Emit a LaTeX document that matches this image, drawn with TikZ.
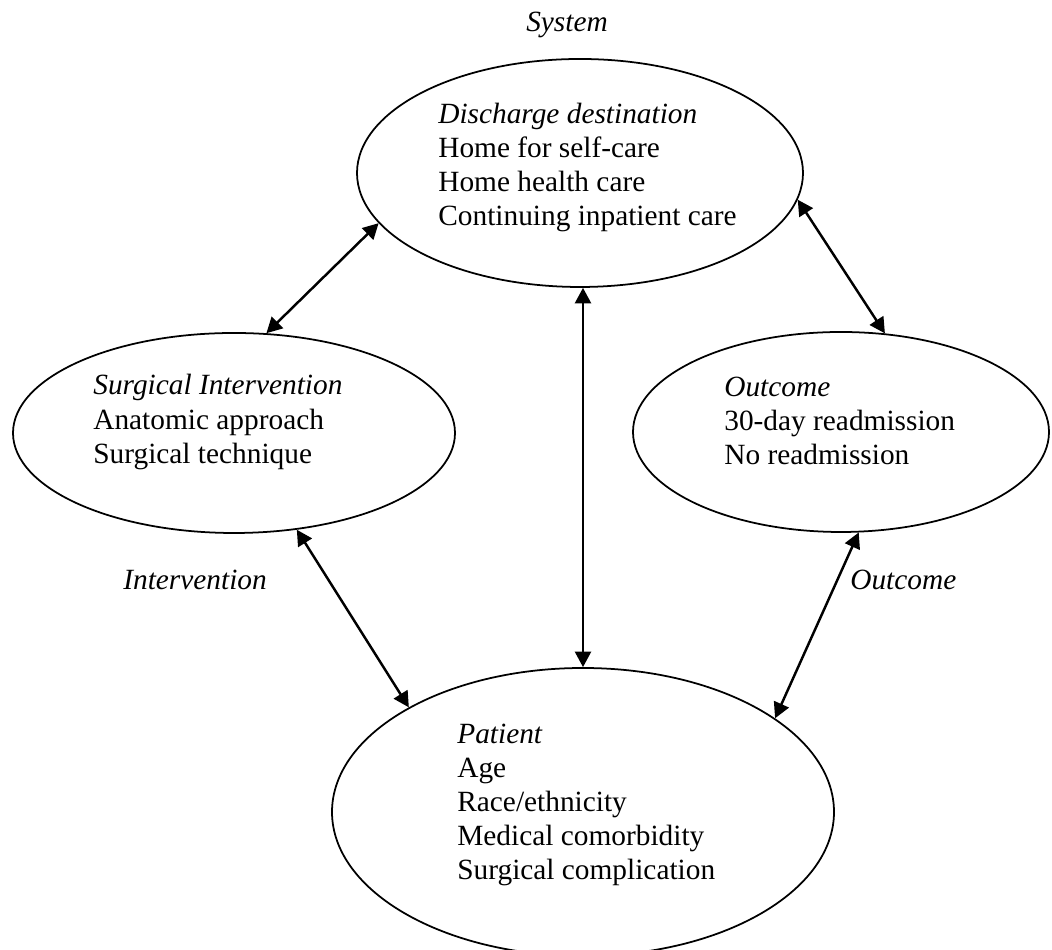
\documentclass[tikz,border=0pt]{standalone}
\usepackage{fontspec}
\setmainfont{Liberation Serif}
\usepackage{tikz}
\usetikzlibrary{shapes.geometric,arrows.meta}

\begin{document}
\begin{tikzpicture}[
  every node/.style={font=\fontsize{16.7}{19.35}\selectfont},
  bubble/.style={draw,ellipse,line width=1pt,inner sep=0pt},
  itemlist/.style={anchor=west,align=left,inner sep=0pt},
  link/.style={{Triangle[length=3.1mm,width=3.2mm]}-{Triangle[length=3.1mm,width=3.2mm]},line width=1.4pt}
]
\useasboundingbox (0,0) rectangle (21.04,19);
% the four ellipses
\node[bubble,minimum width=8.92cm,minimum height=4.56cm] (top) at (11.6,15.54) {};
\node[bubble,minimum width=8.84cm,minimum height=4cm] (left) at (4.68,10.34) {};
\node[bubble,minimum width=8.32cm,minimum height=4cm] (right) at (16.82,10.36) {};
\node[bubble,minimum width=10.04cm,minimum height=5.76cm] (bot) at (11.66,2.76) {};
% texts inside
\node[itemlist] (topText) at (8.76,15.65) {\textit{Discharge destination}\\Home for self-care\\Home health care\\Continuing inpatient care};
\node[itemlist] (leftText) at (1.86,10.56) {\textit{Surgical Intervention}\\Anatomic approach\\Surgical technique};
\node[itemlist] (rightText) at (14.48,10.58) {\textit{Outcome}\\30-day readmission\\No readmission};
\node[itemlist] (botText) at (9.14,2.9) {\textit{Patient}\\Age\\Race/ethnicity\\Medical comorbidity\\Surgical complication};
% levels
\node (system) at (11.34,18.5) {\textit{System}};
\node[anchor=west,inner sep=0pt] (intervention) at (2.46,7.4) {\textit{Intervention}};
\node[anchor=west,inner sep=0pt] (outcome) at (17.0,7.4) {\textit{Outcome}};
% links
\draw[link] (top.194.8) -- (left.72.8);
\draw[link] (top.-7.3) -- (right.66.7);
\draw[link] (bot.north |- top.south) -- (bot.north);
\draw[link] (left.303) -- (bot.149.7);
\draw[link] (right.280.7) -- (bot.26.6);
\end{tikzpicture}
\end{document}
